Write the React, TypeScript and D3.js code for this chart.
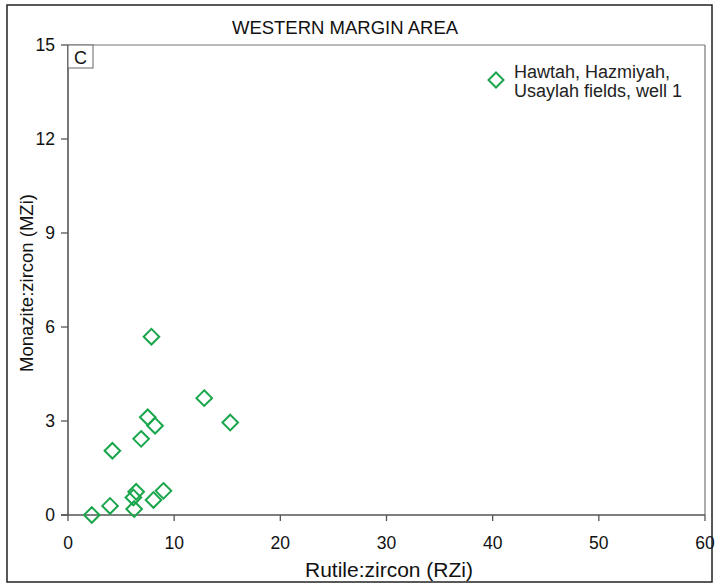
import React from "react";
import * as d3 from "d3";

const rzi = [2.24, 3.96, 4.18, 6.23, 6.16, 6.42, 6.89, 7.51, 8.2, 7.86, 8.05, 8.99, 12.83, 15.28];
const mzi = [0.0, 0.29, 2.05, 0.19, 0.56, 0.74, 2.43, 3.12, 2.85, 5.69, 0.48, 0.77, 3.73, 2.95];
const xTicks = [0, 10, 20, 30, 40, 50, 60];
const yTicks = [0, 3, 6, 9, 12, 15];
const legendLines = ["Hawtah, Hazmiyah,", "Usaylah fields, well 1"];
const title = "WESTERN MARGIN AREA";

const W = 715, H = 587;
const L = 68, R = 705, T = 45, B = 515;
const green = "#19a64b";
const font = "'Liberation Sans', Arial, sans-serif";

function diamond(cx: number, cy: number, r: number) {
  return `M${cx},${cy - r}L${cx + r},${cy}L${cx},${cy + r}L${cx - r},${cy}Z`;
}

export default function App() {
  const x = d3.scaleLinear().domain([0, 60]).range([L, R]);
  const y = d3.scaleLinear().domain([0, 15]).range([B, T]);
  return (
    <svg width={W} height={H} style={{ position: "absolute", left: 0, top: 0 }} fontFamily={font}>
      <rect x={0} y={0} width={W} height={H} fill="#fff" />
      <rect x={7} y={5} width={705} height={577} fill="none" stroke="#222" strokeWidth={1.5} />
      <text x={345} y={34} textAnchor="middle" fontSize={18.5} fill="#111">{title}</text>
      {/* frame */}
      <line x1={L} y1={T} x2={R} y2={T} stroke="#777" strokeWidth={1.2} />
      <line x1={R} y1={T} x2={R} y2={B} stroke="#777" strokeWidth={1.2} />
      {/* y axis */}
      <line x1={L} y1={T} x2={L} y2={B} stroke="#555" strokeWidth={1.6} />
      {yTicks.map((t) => (
        <g key={"y" + t}>
          <line x1={L - 7} x2={L} y1={y(t)} y2={y(t)} stroke="#555" strokeWidth={1.3} />
          <text x={L - 13} y={y(t) + 6} textAnchor="end" fontSize={17.5} fill="#111">{t}</text>
        </g>
      ))}
      {/* x axis */}
      <line x1={L - 7} y1={B} x2={R} y2={B} stroke="#555" strokeWidth={1.6} />
      {xTicks.map((t) => (
        <g key={"x" + t}>
          <line x1={x(t)} x2={x(t)} y1={B} y2={B + 6} stroke="#555" strokeWidth={1.3} />
          <text x={x(t)} y={B + 34} textAnchor="middle" fontSize={17.5} fill="#111">{t}</text>
        </g>
      ))}
      <text x={389} y={577} textAnchor="middle" fontSize={21} fill="#111">Rutile:zircon (RZi)</text>
      <text transform={`translate(33,${283}) rotate(-90)`} textAnchor="middle" fontSize={18.5} fill="#111">Monazite:zircon (MZi)</text>
      {/* C box */}
      <rect x={L} y={T} width={25} height={23} fill="#fff" stroke="#666" strokeWidth={1} />
      <text x={L + 12.5} y={T + 19} textAnchor="middle" fontSize={18} fill="#111">C</text>
      {/* legend */}
      <path d={diamond(496, 80, 7.5)} fill="none" stroke={green} strokeWidth={2} />
      {legendLines.map((s, i) => (
        <text key={s} x={514} y={78 + i * 19} fontSize={18} fill="#222">{s}</text>
      ))}
      {/* points */}
      {rzi.map((v, i) => (
        <path key={i} d={diamond(x(v), y(mzi[i]), 7.8)} fill="none" stroke={green} strokeWidth={2} />
      ))}
    </svg>
  );
}
